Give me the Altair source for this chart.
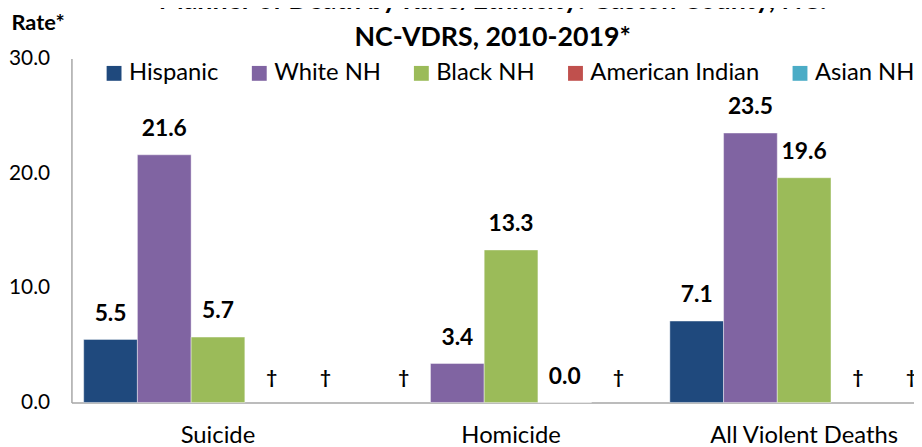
import altair as alt
import pandas as pd

categories = ["Suicide", "Homicide", "All Violent Deaths"]
races = ["Hispanic", "White NH", "Black NH", "American Indian", "Asian NH"]
colors = ["#1F497D", "#8064A2", "#9BBB59", "#C0504D", "#4BACC6"]
suicide = [5.5, 21.6, 5.7, None, None]
homicide = [None, 3.4, 13.3, 0.0, None]
all_violent = [7.1, 23.5, 19.6, None, None]
y_ticks = [0, 10, 20, 30]
title_lines = ["Manner of Death by Race/Ethnicity: Gaston County, NC:", "NC-VDRS, 2010-2019*"]

rows = []
for cat, vals in zip(categories, [suicide, homicide, all_violent]):
    for race, v in zip(races, vals):
        rows.append({
            "category": cat,
            "race": race,
            "rate": v,
            "label": "\u2020" if v is None else f"{v:.1f}",
            "label_y": 0.0 if v is None else v,
            "kind": "dagger" if v is None else "value",
        })
df = pd.DataFrame(rows)

FONT = "Lato"

x_enc = alt.X("category:N", sort=categories,
              scale=alt.Scale(range=[0, 887], paddingInner=0.0836, paddingOuter=0.0418),
              axis=alt.Axis(title=None, labelAngle=0, labelFontSize=24, labelFont=FONT,
                            labelColor="#000000", ticks=False, labelPadding=21,
                            labelLimit=1000,
                            domainColor="#A6A6A6", domainWidth=1.5))
xo_enc = alt.XOffset("race:N", sort=races, scale=alt.Scale(domain=races, paddingInner=0, paddingOuter=0))

base = alt.Chart(df)

bars = base.mark_bar(stroke="white", strokeWidth=0.6, strokeOpacity=0.7).encode(
    x=x_enc,
    xOffset=xo_enc,
    y=alt.Y("rate:Q", scale=alt.Scale(domain=[0, 30], nice=False),
            axis=alt.Axis(values=y_ticks, format=".1f", grid=False, ticks=False,
                          labelFontSize=21, labelFont=FONT, labelColor="#000000",
                          labelPadding=22, domainColor="#A6A6A6", domainWidth=1.5,
                          title="Rate*", titleAngle=0, titleAlign="left",
                          titleBaseline="alphabetic", titleX=-61, titleY=-29,
                          titleFont=FONT, titleFontSize=22, titleFontWeight="bold",
                          titleColor="#000000")),
    color=alt.Color("race:N", sort=races, scale=alt.Scale(domain=races, range=colors),
                    legend=alt.Legend(title=None, orient="none", legendX=31, legendY=3,
                                      direction="horizontal", symbolType="square",
                                      symbolSize=225, symbolStrokeWidth=0,
                                      labelFontSize=24, labelFont=FONT, labelColor="#000000",
                                      labelOffset=3, columnPadding=28.5, padding=0,
                                      labelLimit=1000)),
)

labels = base.mark_text(baseline="alphabetic", dy=-19, fontWeight="bold", font=FONT,
                        color="#000000").encode(
    x=x_enc,
    xOffset=xo_enc,
    y=alt.Y("label_y:Q"),
    text="label:N",
    size=alt.Size("kind:N", scale=alt.Scale(domain=["value", "dagger"], range=[23, 19]),
                  legend=None),
)

chart = alt.layer(bars, labels).properties(
    width=850,
    height=347,
    title=alt.TitleParams(text=title_lines, fontSize=27, font=FONT, fontWeight="bold",
                          color="#000000", anchor="middle", lineHeight=37, frame="group",
                          dy=44),
    autosize=alt.AutoSizeParams(type="none"),
    padding={"left": 64, "top": 49, "right": 0, "bottom": 43},
).configure_view(stroke=None)

chart.save("out.html", embed_options={"renderer": "svg", "actions": False})
